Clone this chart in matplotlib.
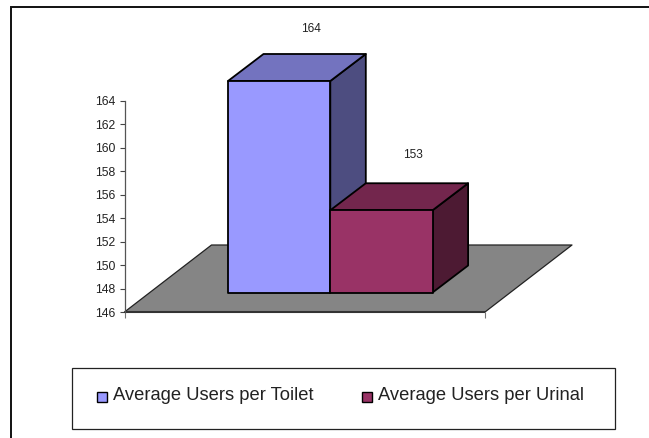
import matplotlib
matplotlib.use("Agg")
import matplotlib.pyplot as plt
from matplotlib.patches import Polygon, Rectangle

plt.rcParams['font.family'] = ['Liberation Sans', 'DejaVu Sans']

series_names = ["Average Users per Toilet", "Average Users per Urinal"]
series_values = [164, 153]
front_colors = ["#9999FF", "#993366"]
top_colors = ["#7373BF", "#73264D"]
side_colors = ["#4D4D80", "#4D1A33"]
y_ticks = [146, 148, 150, 152, 154, 156, 158, 160, 162, 164]

W, H = 649, 438
fig = plt.figure(figsize=(W / 100, H / 100), dpi=100, facecolor="white")

# Axes spans the front plane of the floor; x runs in pixels, y in chart units.
AX_L, AX_R, AX_T, AX_B = 124.5, 485.0, 100.5, 312.0
ax = fig.add_axes([AX_L / W, 1 - AX_B / H, (AX_R - AX_L) / W, (AX_B - AX_T) / H])
ax.set_xlim(0, AX_R - AX_L)
ax.set_ylim(y_ticks[0], y_ticks[-1])
ax.patch.set_visible(False)
units_per_px = (y_ticks[-1] - y_ticks[0]) / (AX_B - AX_T)

for side in ("top", "right"):
    ax.spines[side].set_visible(False)
ax.spines["left"].set_color("#555555")
ax.spines["left"].set_linewidth(0.9)
ax.spines["bottom"].set_visible(False)
ax.set_yticks(y_ticks)
ax.tick_params(axis="y", length=3.8, width=0.8, color="#444444", labelsize=8.8,
               labelcolor="#222222", pad=2.8)
ax.set_xticks([0, AX_R - AX_L])
ax.set_xticklabels([])
ax.tick_params(axis="x", length=4, width=0.8, color="#777777")


def poly(points, face, edge="black", lw=1.3, z=3):
    ax.add_patch(Polygon([(x, y) for x, y in points], closed=True, facecolor=face,
                         edgecolor=edge, linewidth=lw, joinstyle="round",
                         clip_on=False, zorder=z))


# Floor
base = y_ticks[0]
floor_dx, floor_dy = 87.0, 67.0 * units_per_px
floor_w = AX_R - AX_L
poly([(0, base), (floor_w, base), (floor_w + floor_dx, base + floor_dy), (floor_dx, base + floor_dy)],
     "#858585", edge="#222222", lw=0.9, z=2)
ax.plot([0, floor_w], [base, base], color="#333333", lw=1.5, clip_on=False, zorder=2.5,
        solid_capstyle="butt")

# Bars stand part way back on the floor
lift = 19.5 * units_per_px
depth_dx, depth_dy = 35.5, 27.0 * units_per_px
bar_w = 102.3
bar_left = 103.5
label_gaps_px = (25, 28)
for i, (val, fc, tc, sc) in enumerate(zip(series_values, front_colors, top_colors, side_colors)):
    x0 = bar_left + i * bar_w
    x1 = x0 + bar_w
    y0 = base + lift
    y1 = val + lift
    # side, top, then front so the front outline stays on top
    poly([(x1, y0), (x1 + depth_dx, y0 + depth_dy), (x1 + depth_dx, y1 + depth_dy), (x1, y1)], sc, z=3 + i)
    poly([(x0, y1), (x1, y1), (x1 + depth_dx, y1 + depth_dy), (x0 + depth_dx, y1 + depth_dy)], tc, z=3 + i)
    poly([(x0, y0), (x1, y0), (x1, y1), (x0, y1)], fc, z=3 + i)
    ax.text(x0 + bar_w / 2 + 32, y1 + depth_dy + label_gaps_px[i] * units_per_px, str(val),
            ha="center", va="center", fontsize=8.6, color="#222222", clip_on=False)

# Overlay in figure pixels for the outer frame and the legend
ov = fig.add_axes([0, 0, 1, 1], zorder=5)
ov.set_xlim(0, W)
ov.set_ylim(H, 0)
ov.axis("off")
ov.patch.set_visible(False)
ov.plot([10.5, 10.5, W], [H, 6.5, 6.5], color="#111111", lw=1.4, solid_joinstyle="miter")
ov.add_patch(Rectangle((71.5, 367.5), 543, 61, facecolor="white", edgecolor="#222222", lw=0.9))
legend_items = [(96.5, 113), (361.5, 378)]
for (sx, tx), name, fc in zip(legend_items, series_names, front_colors):
    ov.add_patch(Rectangle((sx, 391.5), 10, 10, facecolor=fc, edgecolor="black", lw=1.0))
    ov.text(tx, 395.5, name, fontsize=13.2, va="center", ha="left", color="#222222")

fig.savefig("out.png", dpi=100, facecolor="white")
